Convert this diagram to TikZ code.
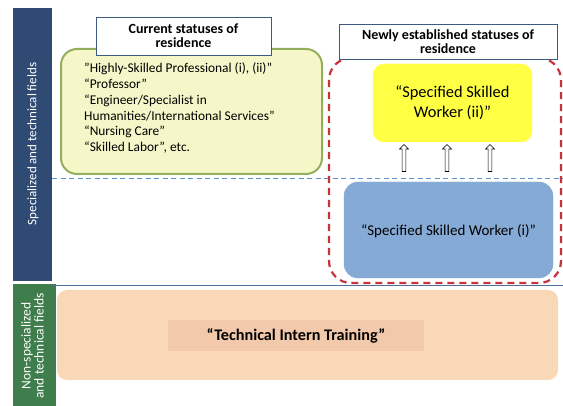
\documentclass[tikz,border=0pt]{standalone}
\usepackage{fontspec}
\setmainfont{Carlito}
\usetikzlibrary{shapes.arrows}
\definecolor{navy}{HTML}{2F4B74}
\definecolor{fgreen}{HTML}{3F7D4C}
\definecolor{sepline}{HTML}{4F6E9A}
\definecolor{dashblue}{HTML}{5B95CF}
\definecolor{olive}{HTML}{93AE5C}
\definecolor{paleyellow}{HTML}{F5F7C9}
\definecolor{brightyellow}{HTML}{FFFF44}
\definecolor{steel}{HTML}{86AAD6}
\definecolor{peach}{HTML}{F9D8B8}
\definecolor{peachdark}{HTML}{F2C9AA}
\definecolor{dashred}{HTML}{C8323A}
\definecolor{titleborder}{HTML}{3D5A80}
\begin{document}
\begin{tikzpicture}[x=1pt,y=-1pt,
  titlebox/.style={draw=titleborder, line width=0.8pt, fill=white},
  titletext/.style={font=\fontsize{14}{14}\selectfont\bfseries, align=center, inner sep=0pt},
  sidebar/.style={text=white, align=center, inner sep=0pt},
  uparrow/.style={single arrow, draw=black, fill=white, line width=0.6pt, rotate=90, minimum height=27pt, minimum width=9pt, single arrow head extend=2.6pt, inner sep=1.6pt, anchor=center}
]
\useasboundingbox (0,0) rectangle (563,406);
% side bars
\fill[navy] (13,8) rectangle (52,281);
\fill[fgreen] (13,284) rectangle (56,406);
\node[sidebar, rotate=90, font=\fontsize{13}{13}\selectfont] (spec) at (33,144) {Specialized and technical fields};
\node[sidebar, rotate=90, font=\fontsize{13.5}{13}\selectfont] (nonspec) at (32.5,346) {Non-specialized\\and technical fields};
% separating lines
\coordinate (sepL) at (52,286);
\coordinate (sepR) at (563,286);
\draw[sepline, line width=1pt] (sepL) -- (sepR);
\coordinate (dashL) at (52,178);
\coordinate (dashR) at (563,178);
\draw[dashblue, line width=0.9pt, dash pattern=on 5pt off 3.5pt] (dashL) -- (dashR);
% current statuses box
\draw[olive, line width=2pt, fill=paleyellow, rounded corners=16pt] (61,49) rectangle (322,174);
\node[anchor=north west, align=left, inner sep=0pt, font=\fontsize{13.4}{15.7}\selectfont] (current) at (84,63)
 {”Highly-Skilled Professional (i), (ii)”\\
  “Professor”\\
  “Engineer/Specialist in\\
  Humanities/International Services”\\
  “Nursing Care”\\
  “Skilled Labor”, etc.};
\draw[titlebox] (96,17) rectangle (271,55);
\node[titletext] (curtitle) at (183.5,35.5) {Current statuses of\\residence};
% red dashed region
\draw[dashred, line width=2.2pt, dash pattern=on 7pt off 5pt, rounded corners=22pt] (329,58) rectangle (561,283);
% yellow box
\draw[brightyellow, fill=brightyellow, rounded corners=11pt] (373,64) rectangle (532,142);
\node[font=\fontsize{16.4}{20}\selectfont, align=center] (ssw2) at (452.5,103) {“Specified Skilled\\Worker (ii)”};
% blue box
\draw[steel, fill=steel, rounded corners=14pt] (344,182) rectangle (553,278);
\node[font=\fontsize{15}{15}\selectfont] (ssw1) at (448.5,231) {“Specified Skilled Worker (i)”};
% arrows
\node[uparrow] (a1) at (404,159) {};
\node[uparrow] (a2) at (447,159) {};
\node[uparrow] (a3) at (490,159) {};
% new statuses title
\draw[titlebox] (339,24) rectangle (557,59);
\node[titletext] (newtitle) at (448,41.5) {Newly established statuses of\\residence};
% technical intern training
\fill[peach, rounded corners=10pt] (57,290) rectangle (558,380);
\fill[peachdark] (168,320) rectangle (424,351);
\node[font=\fontsize{16.2}{16}\selectfont\bfseries] (tit) at (296,335.5) {“Technical Intern Training”};
\end{tikzpicture}
\end{document}
